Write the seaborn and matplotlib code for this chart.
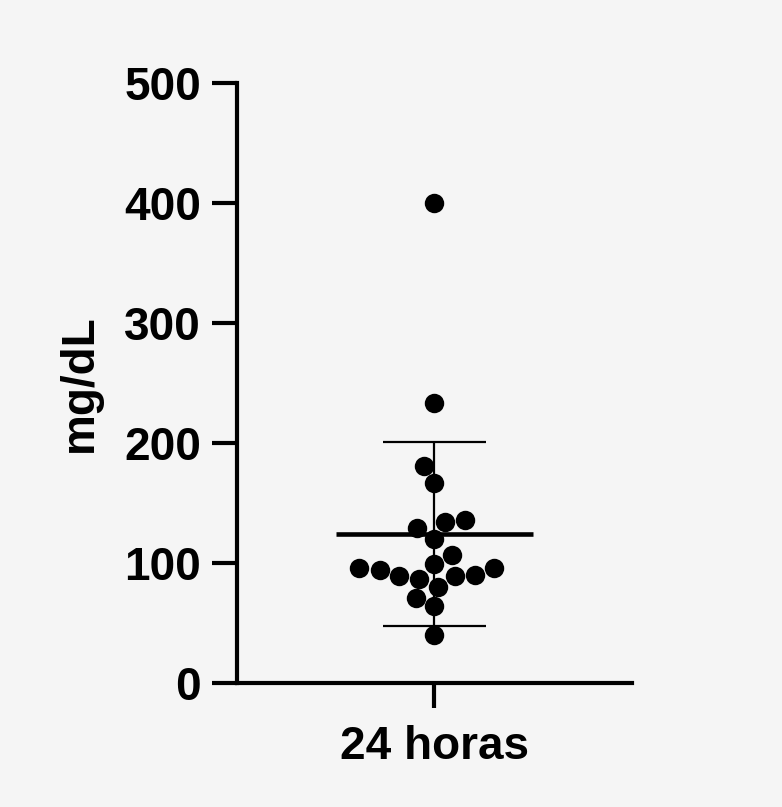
import numpy as np
import pandas as pd
import seaborn as sns
import matplotlib
matplotlib.use("Agg")
import matplotlib.pyplot as plt

group = ["24 horas"]
values = [400, 233, 181, 167, 136, 134, 129, 120, 107, 99, 96, 96, 94,
          89, 89, 90, 87, 80, 71, 64, 40]
yticks = [0, 100, 200, 300, 400, 500]

df = pd.DataFrame({"grupo": group * len(values), "valor": values})

sns.set_style("ticks")
plt.rcParams["font.family"] = ["Liberation Sans", "DejaVu Sans"]
plt.rcParams["font.weight"] = "bold"
plt.rcParams["text.color"] = "black"
plt.rcParams["axes.labelcolor"] = "black"
plt.rcParams["xtick.color"] = "black"
plt.rcParams["ytick.color"] = "black"
plt.rcParams["axes.edgecolor"] = "black"

bg = "#f5f5f5"
fig = plt.figure(figsize=(7.82, 8.07), dpi=100, facecolor=bg)
ax = fig.add_axes([0.303, 0.1537, 0.505, 0.7435])
ax.set_facecolor(bg)

sns.swarmplot(data=df, x="grupo", y="valor", color="black", size=14,
              ax=ax, zorder=3)

mean = np.mean(values)
sd = np.std(values, ddof=1)
ax.hlines(mean, -0.5, 0.5, color="black", lw=3.3, zorder=4)
ax.vlines(0, mean - sd, mean + sd, color="black", lw=1.6, zorder=2)
ax.hlines([mean - sd, mean + sd], -0.26, 0.26, color="black", lw=1.6, zorder=2)

ax.set_xlim(-1, 1)
ax.set_ylim(0, 500)
ax.set_yticks(yticks)
ax.set_xlabel("")
ax.set_ylabel("mg/dL", fontsize=33, fontweight="bold", labelpad=16, color="black")
sns.despine(ax=ax)
for s in ["left", "bottom"]:
    ax.spines[s].set_linewidth(3)
    ax.spines[s].set_color("black")
    ax.spines[s].set_capstyle("projecting")
ax.tick_params(axis="both", width=3, length=18, labelsize=33, color="black",
               labelcolor="black")
ax.tick_params(axis="y", pad=8)
ax.tick_params(axis="x", pad=12)
for lab in ax.get_xticklabels() + ax.get_yticklabels():
    lab.set_fontweight("bold")

fig.savefig("out.png", dpi=100, facecolor=bg)
